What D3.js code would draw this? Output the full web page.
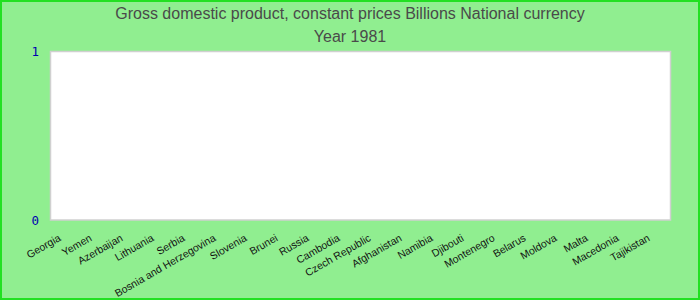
<!DOCTYPE html>
<html>
<head>
<meta charset="utf-8">
<script src="https://cdn.jsdelivr.net/npm/d3@7/dist/d3.min.js"></script>
<style>
html,body{margin:0;padding:0;background:#fff;}
svg{display:block;}
</style>
</head>
<body>
<svg id="chart" width="700" height="300"></svg>
<script>
const titleLines = ["Gross domestic product, constant prices Billions National currency", "Year 1981"];
const categories = ["Georgia","Yemen","Azerbaijan","Lithuania","Serbia","Bosnia and Herzegovina","Slovenia","Brunei","Russia","Cambodia","Czech Republic","Afghanistan","Namibia","Djibouti","Montenegro","Belarus","Moldova","Malta","Macedonia","Tajikistan"];
const values = [0,0,0,0,0,0,0,0,0,0,0,0,0,0,0,0,0,0,0,0];
const yTicks = [0, 1];

const W = 700, H = 300;
const m = {left: 50, right: 30, top: 51.5, bottom: 80};
const svg = d3.select("#chart");

svg.append("rect").attr("x", 1).attr("y", 1).attr("width", W - 2).attr("height", H - 2)
  .attr("fill", "#90ee90").attr("stroke", "#22e022").attr("stroke-width", 2);

svg.selectAll("text.title").data(titleLines).join("text")
  .attr("class", "title")
  .attr("x", W / 2).attr("y", (d, i) => 18.5 + i * 23.5)
  .attr("text-anchor", "middle")
  .attr("font-family", "Liberation Sans, Arial, sans-serif")
  .attr("font-size", 16).attr("fill", "#4a4a4a")
  .text(d => d);

const x = d3.scaleBand().domain(categories).range([m.left, W - m.right]);
const y = d3.scaleLinear().domain([0, 1]).range([H - m.bottom, m.top]);

svg.append("rect").attr("x", m.left + 0.5).attr("y", m.top)
  .attr("width", W - m.right - m.left).attr("height", H - m.bottom - m.top)
  .attr("fill", "#ffffff").attr("stroke", "#d0d0d0").attr("stroke-width", 1.5);

svg.selectAll("rect.bar").data(values).join("rect")
  .attr("class", "bar")
  .attr("x", (d, i) => x(categories[i]) + x.bandwidth() * 0.15)
  .attr("width", x.bandwidth() * 0.7)
  .attr("y", d => y(d)).attr("height", d => y(0) - y(d))
  .attr("fill", "#4682b4");

const yAxis = svg.append("g").attr("transform", `translate(${m.left},0)`)
  .call(d3.axisLeft(y).tickValues(yTicks).tickFormat(d3.format("d")).tickSize(0).tickPadding(11));
yAxis.select(".domain").remove();
yAxis.selectAll("text").attr("font-family", "DejaVu Sans Mono, monospace").attr("font-size", 12.5).attr("fill", "#0000b0");

const xAxis = svg.append("g").attr("transform", `translate(0,${H - m.bottom})`)
  .call(d3.axisBottom(x).tickSize(0).tickFormat(d => d));
xAxis.select(".domain").remove();
xAxis.selectAll(".tick text")
  .attr("font-family", "Liberation Sans, Arial, sans-serif")
  .attr("font-size", 10.5).attr("fill", "#111")
  .attr("text-anchor", "end")
  .attr("x", 0).attr("y", 0).attr("dy", 0)
  .attr("transform", "translate(-4,20) rotate(-30)");
</script>
</body>
</html>
